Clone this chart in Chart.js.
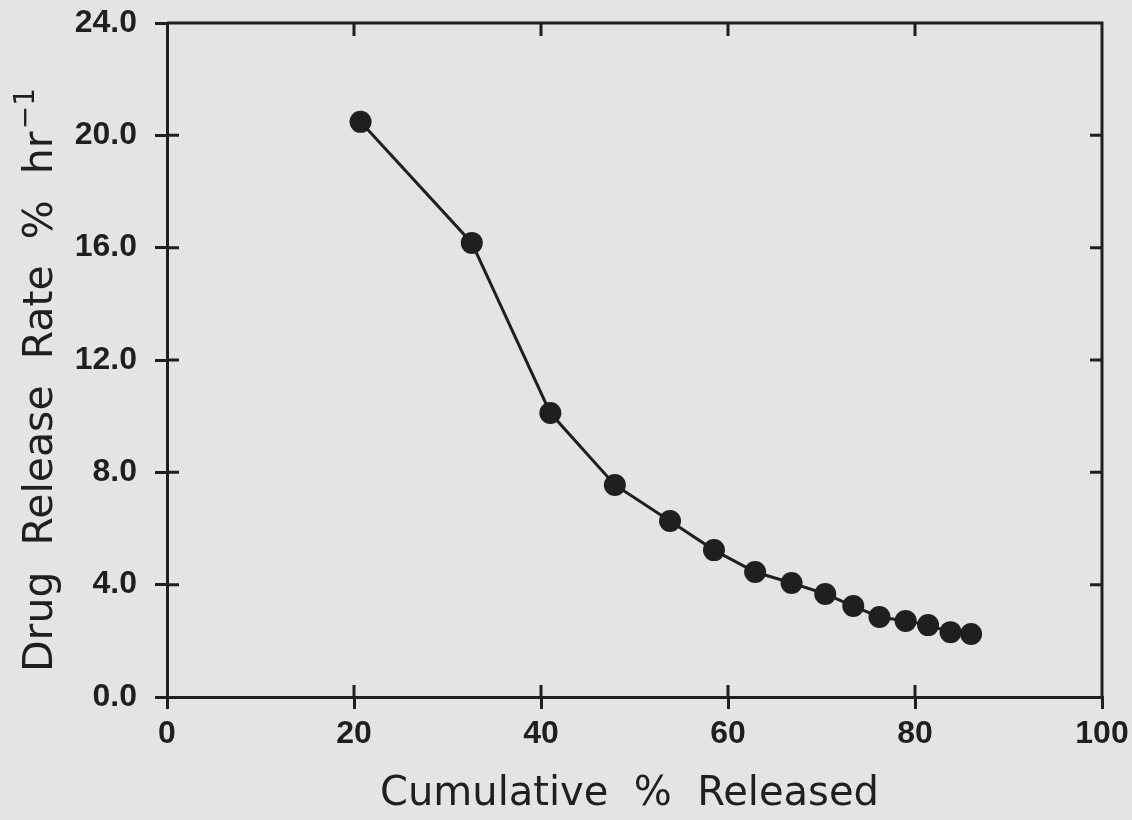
<!DOCTYPE html>
<html lang="en">

<head>
  <meta charset="UTF-8">
  <title>Drug Release Rate</title>
  <script src="https://cdn.jsdelivr.net/npm/chart.js@4/dist/chart.umd.min.js"></script>
  <style>
    body { margin: 0; background: #e4e4e4; }
    #wrap { width: 1132px; height: 820px; }
  </style>
</head>

<body>
  <div id="wrap">
    <canvas id="chart" width="1132" height="820"></canvas>
  </div>
  <script>
    // values
    var released = [20.7, 32.6, 41.0, 47.9, 53.8, 58.5, 62.9, 66.8, 70.4, 73.4, 76.2, 79.0, 81.4, 83.8, 86.0];
    var rate = [20.48, 16.17, 10.11, 7.55, 6.27, 5.23, 4.45, 4.06, 3.67, 3.24, 2.85, 2.71, 2.56, 2.31, 2.24];
    var xTicks = [0, 20, 40, 60, 80, 100];
    var yTicks = [0, 4, 8, 12, 16, 20, 24];
    var xTitle = 'Cumulative  %  Released';
    var yTitle = 'Drug  Release  Rate  %  hr';
    var yTitleSup = '\u22121';

    var ink = '#1f1f1f';
    var titleFont = '41px "DejaVu Sans"';
    var points = [];
    for (var i in released) {
      points.push({ x: released[i], y: rate[i] });
    }

    // frame on top/right, the inward half of every tick, and the axis titles
    var frame = {
      id: 'frame',
      afterDraw: function (chart) {
        var c = chart.ctx, a = chart.chartArea;
        var sx = chart.scales.x, sy = chart.scales.y;
        c.save();
        c.strokeStyle = ink;
        c.lineWidth = 3;
        c.beginPath();
        c.moveTo(a.left, a.top); c.lineTo(a.right, a.top); c.lineTo(a.right, a.bottom);
        xTicks.forEach(function (v) {
          var px = sx.getPixelForValue(v);
          if (v > 0 && v < 100) {
            c.moveTo(px, a.bottom); c.lineTo(px, a.bottom - 12);
            c.moveTo(px, a.top); c.lineTo(px, a.top + 13);
          }
        });
        yTicks.forEach(function (v) {
          var py = sy.getPixelForValue(v);
          if (v > 0 && v < 24) {
            c.moveTo(a.left, py); c.lineTo(a.left + 12, py);
            c.moveTo(a.right, py); c.lineTo(a.right - 12, py);
          }
        });
        c.stroke();

        // x title
        c.fillStyle = ink;
        c.font = '40px "DejaVu Sans"';
        c.textAlign = 'center';
        c.textBaseline = 'alphabetic';
        c.fillText(xTitle, (a.left + a.right) / 2 - 5, 805);

        // y title with a real superscript
        c.font = titleFont;
        var w1 = c.measureText(yTitle).width;
        c.font = '28px "DejaVu Sans"';
        var w2 = c.measureText(yTitleSup).width;
        var total = w1 + 2 + w2;
        c.translate(52, (a.top + a.bottom) / 2 + 20);
        c.rotate(-Math.PI / 2);
        c.textAlign = 'left';
        c.font = titleFont;
        c.fillText(yTitle, -total / 2, 0);
        c.font = '28px "DejaVu Sans"';
        c.fillText(yTitleSup, -total / 2 + w1 + 2, -18);
        c.restore();
      }
    };

    new Chart(document.getElementById('chart'), {
      type: 'line',
      data: {
        datasets: [{
          data: points,
          borderColor: ink,
          borderWidth: 3,
          backgroundColor: ink,
          pointRadius: 11,
          pointBackgroundColor: ink,
          pointBorderWidth: 0,
          tension: 0
        }]
      },
      options: {
        responsive: false,
        animation: false,
        layout: { padding: { top: 23, right: 30, left: 0, bottom: 0 } },
        plugins: { legend: { display: false }, tooltip: { enabled: false } },
        scales: {
          x: {
            type: 'linear',
            min: 0, max: 100,
            afterBuildTicks: function (s) { s.ticks = xTicks.map(function (v) { return { value: v }; }); },
            afterFit: function (s) { s.height = 123; s.paddingLeft = 0; s.paddingRight = 0; },
            ticks: { color: ink, padding: 6, font: { family: 'Liberation Sans', size: 32, weight: 'bold' } },
            grid: { drawOnChartArea: false, drawTicks: true, tickLength: 12, lineWidth: 3, color: ink },
            border: { display: true, width: 3, color: ink }
          },
          y: {
            min: 0, max: 24,
            afterBuildTicks: function (s) { s.ticks = yTicks.map(function (v) { return { value: v }; }); },
            afterFit: function (s) { s.width = 167; s.paddingTop = 0; s.paddingBottom = 0; },
            ticks: {
              color: ink, padding: 18,
              font: { family: 'Liberation Sans', size: 32, weight: 'bold' },
              callback: function (v) { return v.toFixed(1); }
            },
            grid: { drawOnChartArea: false, drawTicks: true, tickLength: 12, lineWidth: 3, color: ink },
            border: { display: true, width: 3, color: ink }
          }
        }
      },
      plugins: [frame]
    });
  </script>

</body>

</html>
